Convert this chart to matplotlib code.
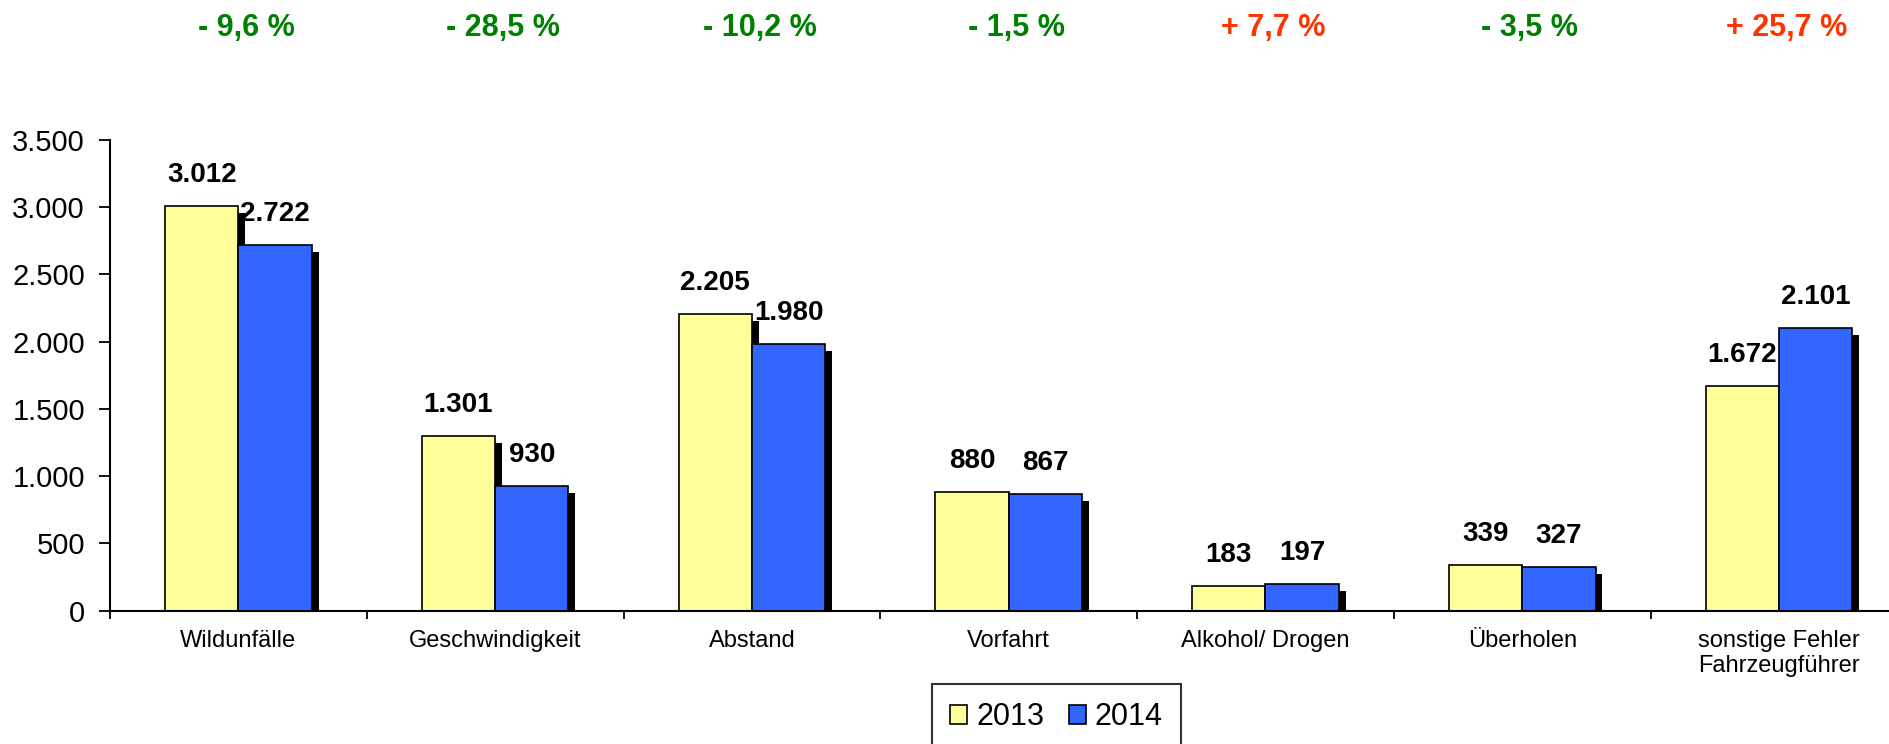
import matplotlib
matplotlib.use('Agg')
import matplotlib.pyplot as plt
import matplotlib.patheffects as pe
import matplotlib.transforms as mtransforms
import numpy as np

plt.rcParams['font.family'] = ['Liberation Sans', 'DejaVu Sans']

# daten
kategorien = ['Wildunfälle', 'Geschwindigkeit', 'Abstand', 'Vorfahrt',
              'Alkohol/ Drogen', 'Überholen', 'sonstige Fehler\nFahrzeugführer']
werte_2013 = [3012, 1301, 2205, 880, 183, 339, 1672]
werte_2014 = [2722, 930, 1980, 867, 197, 327, 2101]
veraenderung = ['- 9,6 %', '- 28,5 %', '- 10,2 %', '- 1,5 %', '+ 7,7 %', '- 3,5 %', '+ 25,7 %']
jahre = ['2013', '2014']

gelb = '#FFFF99'
blau = '#3366FF'
gruen = '#008000'
rot = '#FF3300'


def tausender(v):
    return f'{v:,}'.replace(',', '.')


fig = plt.figure(figsize=(18.9, 7.44), dpi=100)
ax = fig.add_axes([0.0582, 0.1792, 0.951, 0.6326])

x = np.arange(len(kategorien))
b = 0.2855
schatten = [pe.SimplePatchShadow(offset=(5, -5), shadow_rgbFace='black', alpha=1.0), pe.Normal()]

bars1 = ax.bar(x - b / 2, werte_2013, b, color=gelb, edgecolor='black', linewidth=1.2, label=jahre[0])
bars2 = ax.bar(x + b / 2, werte_2014, b, color=blau, edgecolor='black', linewidth=1.2, label=jahre[1])
for r in list(bars1) + list(bars2):
    r.set_path_effects(schatten)

# beschriftung ueber den balken
for bars, werte in ((bars1, werte_2013), (bars2, werte_2014)):
    for r, v in zip(bars, werte):
        ax.annotate(tausender(v), (r.get_x() + r.get_width() / 2, v),
                    xytext=(0, 13), textcoords='offset points',
                    ha='center', va='bottom', fontsize=20, fontweight='bold')

# prozentwerte oben
trans = mtransforms.blended_transform_factory(ax.transData, fig.transFigure)
for i, t in enumerate(veraenderung):
    farbe = rot if t.startswith('+') else gruen
    ax.text(x[i] + 0.03, 0.963, t, transform=trans, ha='center', va='center',
            fontsize=22, fontweight='bold', color=farbe)

ax.set_xlim(-0.5, len(kategorien) - 0.5)
ax.set_ylim(0, 3500)
ax.set_yticks(np.arange(0, 3501, 500))
ax.set_yticklabels([tausender(v) for v in range(0, 3501, 500)], fontsize=21)
ax.set_xticks(x)
ax.set_xticklabels(kategorien, fontsize=17, linespacing=1.15)
ax.set_xticks(np.arange(-0.5, len(kategorien)), minor=True)
ax.tick_params(axis='x', which='major', length=0, pad=14)
ax.tick_params(axis='x', which='minor', length=6, width=1.3, direction='out')
ax.tick_params(axis='y', length=8, width=1.3, direction='out', pad=10)

for s in ('top', 'right'):
    ax.spines[s].set_visible(False)
for s in ('left', 'bottom'):
    ax.spines[s].set_linewidth(1.5)

leg = fig.legend(handles=[bars1, bars2], labels=jahre, loc='upper left',
                 bbox_to_anchor=(932 / 1890, 1 - 684 / 744), ncol=2, fontsize=22,
                 frameon=True, fancybox=False, edgecolor='black',
                 handlelength=0.55, handleheight=0.55, handletextpad=0.3,
                 columnspacing=0.8, borderpad=0.6, borderaxespad=0)
leg.get_frame().set_linewidth(1.5)
for h in leg.legend_handles:
    h.set_path_effects([])

fig.savefig('out.png', dpi=100)
